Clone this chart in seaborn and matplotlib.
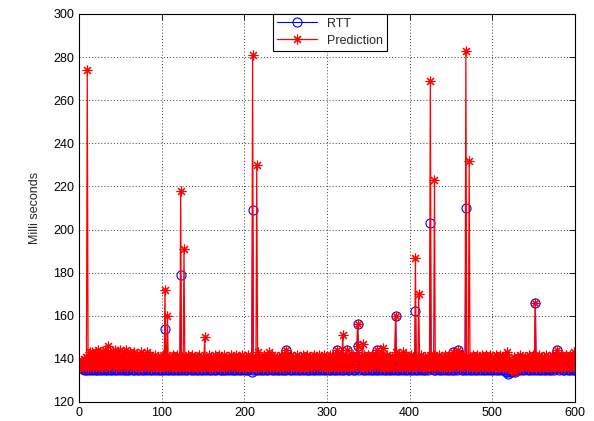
import numpy as np
import pandas as pd
import matplotlib
matplotlib.use("Agg")
import matplotlib.pyplot as plt
import seaborn as sns

rtt = [
136,138,137,136,136,135,136,137,135,136,135,136,136,137,135,136,135,136,136,135,
137,135,136,136,135,136,137,135,136,136,135,136,137,135,136,136,135,137,136,135,
136,136,135,137,136,135,136,136,137,135,136,136,135,136,137,135,136,135,136,136,
135,137,136,136,135,136,135,137,136,135,136,136,135,137,136,135,136,136,135,137,
136,135,136,136,137,135,136,135,136,136,137,135,136,136,135,136,137,135,136,135,
136,136,135,154,137,135,136,136,135,137,136,135,136,136,135,137,136,135,136,136,
135,137,179,136,135,136,136,135,137,136,135,136,136,137,135,136,136,135,136,137,
135,136,136,135,137,136,135,136,136,135,137,140,136,135,136,136,135,137,136,135,
136,136,135,137,136,135,136,136,137,135,136,136,135,136,137,135,136,135,136,136,
135,137,136,136,135,136,135,137,136,135,136,136,135,137,136,135,136,136,135,137,
136,135,136,136,135,137,136,136,134,209,135,136,136,135,137,136,135,136,136,135,
137,136,135,136,136,135,137,136,135,136,136,137,135,136,136,135,136,137,135,136,
136,135,136,137,135,136,136,135,136,144,135,136,136,137,135,136,136,135,137,136,
135,136,136,137,135,136,135,136,136,137,135,136,136,135,137,136,135,136,136,135,
136,137,135,136,136,135,137,136,135,136,136,137,135,136,136,135,136,137,135,136,
136,135,137,136,135,136,136,137,135,136,135,144,136,137,135,136,136,135,137,136,
135,136,136,144,135,136,135,136,136,137,135,136,136,135,137,136,156,146,135,136,
136,137,135,136,136,135,137,136,135,136,136,137,135,136,136,135,136,137,135,144,
136,135,137,136,135,136,136,137,135,136,135,136,136,137,135,136,136,135,137,136,
135,136,160,137,135,136,135,136,136,137,135,136,136,135,137,136,135,136,136,135,
136,137,135,136,136,135,162,136,135,136,136,137,135,136,136,135,136,137,135,136,
136,135,137,136,203,136,136,137,135,136,135,136,136,137,135,136,136,135,137,136,
135,136,136,137,135,136,135,136,136,137,135,143,136,135,137,136,135,136,144,142,
136,137,135,136,136,135,137,210,135,136,136,137,135,136,136,135,136,137,135,136,
136,135,137,136,135,136,136,137,135,136,135,136,136,137,135,136,136,135,137,136,
135,136,136,137,135,136,135,136,136,137,135,136,136,135,137,134,135,134,133,135,
134,135,135,134,136,135,135,134,135,136,135,136,136,137,135,136,136,135,137,136,
136,137,135,136,136,135,137,136,135,136,136,166,135,136,136,135,136,137,135,136,
136,135,137,136,135,136,136,137,135,136,135,136,136,137,135,136,136,144,137,136,
135,136,136,137,135,136,135,136,136,137,135,136,136,135,137,136,135,136,136,135,
]

prediction = [
136,138,137,139,136,140,137,141,138,274,136,141,143,137,140,143,136,142,138,143,
137,142,144,136,143,138,141,136,143,139,137,144,138,142,146,136,140,143,137,142,
143,137,141,144,136,139,143,137,140,144,136,142,139,137,143,138,144,136,140,138,
142,143,137,140,136,141,143,137,139,142,136,140,141,137,143,136,139,142,137,140,
141,143,136,140,137,142,136,141,139,137,140,142,136,138,141,137,140,136,139,141,
137,142,136,172,140,136,160,138,141,137,139,141,136,142,137,141,136,139,142,137,
141,136,218,137,141,136,191,140,136,141,138,142,136,139,141,137,142,136,139,141,
137,140,136,141,142,137,140,136,139,141,137,150,136,140,138,137,142,136,139,141,
136,140,138,142,136,139,141,137,142,136,139,141,137,140,142,136,139,141,137,140,
141,136,139,142,137,140,136,141,138,142,137,139,141,136,140,138,142,136,141,137,
136,141,138,137,142,136,140,138,136,281,137,140,141,136,230,143,136,141,138,137,
141,136,139,142,137,140,136,141,138,143,136,140,137,142,136,141,138,136,141,139,
137,141,136,142,138,140,136,141,142,144,136,139,141,137,140,142,136,139,141,137,
141,136,140,142,137,141,136,139,141,137,142,136,140,141,137,142,136,139,141,138,
136,140,141,142,137,139,141,136,140,142,138,137,141,136,139,142,137,140,141,136,
139,141,136,142,138,137,141,136,140,142,137,144,136,141,139,142,136,140,151,137,
140,136,141,144,137,140,142,136,139,141,142,136,140,141,137,142,156,146,141,136,
137,141,147,136,142,138,141,136,139,142,137,140,141,142,136,139,141,137,142,144,
137,140,141,136,142,138,141,145,136,140,141,137,142,136,139,141,137,140,141,136,
139,141,160,143,136,140,142,137,139,141,136,143,137,140,141,142,136,139,141,137,
140,142,136,141,137,139,187,136,140,141,170,137,140,142,136,141,139,137,141,136,
139,141,136,142,269,141,136,140,142,223,137,141,136,139,142,137,140,141,136,139,
141,136,142,137,140,141,136,142,139,141,137,143,136,141,139,142,137,141,144,142,
136,141,139,142,137,140,141,283,136,139,141,232,137,140,141,136,142,139,141,136,
139,142,137,141,136,140,142,137,141,139,136,142,137,141,139,136,142,138,141,136,
139,141,136,142,137,140,141,136,142,139,137,141,136,139,142,136,141,143,136,140,
138,135,137,136,135,141,136,134,138,136,141,139,136,142,137,141,136,139,141,137,
139,141,136,142,137,140,141,136,142,138,141,166,136,140,141,137,142,136,139,141,
136,139,141,137,142,136,141,138,139,141,136,142,137,141,140,136,141,144,136,142,
139,141,136,142,137,141,140,136,142,139,141,136,140,142,137,141,136,139,143,140,
]

x_values = list(range(1, len(rtt) + 1))
x_ticks = [0, 100, 200, 300, 400, 500, 600]
y_ticks = [120, 140, 160, 180, 200, 220, 240, 260, 280, 300]

df = pd.DataFrame({"x": x_values, "RTT": rtt, "Prediction": prediction})

sns.set_style("white")
plt.rcParams["font.family"] = ["Liberation Sans", "DejaVu Sans"]

fig = plt.figure(figsize=(5.94, 4.21), dpi=100)
ax = fig.add_axes([79/594, 1 - 402/421, (575 - 79)/594, (402 - 14)/421])

sns.lineplot(data=df, x="x", y="RTT", ax=ax, color="blue", lw=0.8,
             marker="o", markersize=6.5, markerfacecolor="none",
             markeredgecolor="blue", markeredgewidth=0.8, label="RTT",
             estimator=None, sort=False)
sns.lineplot(data=df, x="x", y="Prediction", ax=ax, color="red", lw=0.9,
             marker=(8, 2, 0), markersize=7, markerfacecolor="red",
             markeredgecolor="red", markeredgewidth=0.8, label="Prediction",
             estimator=None, sort=False)

ax.set_xlim(0, 600)
ax.set_ylim(120, 300)
ax.set_xticks(x_ticks)
ax.set_yticks(y_ticks)
ax.set_xlabel("")
ax.set_ylabel("Milli seconds", fontsize=9, labelpad=9)
ax.tick_params(direction="in", top=True, right=True, labelsize=9,
               length=4, width=0.6, colors="black")
ax.grid(True, linestyle=(0, (1.5, 3)), color="black", lw=0.5)
for s in ax.spines.values():
    s.set_visible(True)
    s.set_color("black")
    s.set_linewidth(0.8)

leg = ax.legend(loc="upper left", bbox_to_anchor=((273 - 79)/496, 1.0),
                borderaxespad=0, fancybox=False, framealpha=1,
                edgecolor="black", fontsize=9, handlelength=3.2,
                borderpad=0.3, labelspacing=0.4)
leg.get_frame().set_linewidth(0.8)

fig.savefig("out.png", dpi=100)
